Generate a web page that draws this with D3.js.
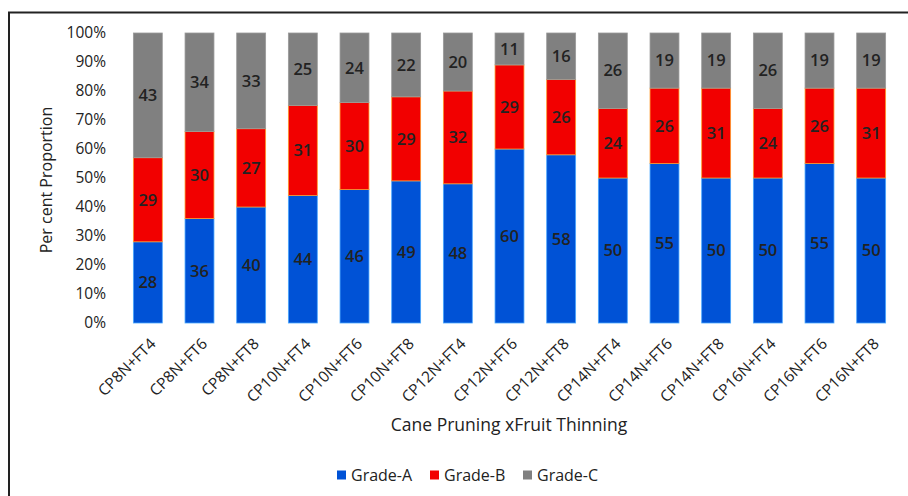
<!DOCTYPE html>
<html>
<head>
<meta charset="utf-8">
<script src="https://cdn.jsdelivr.net/npm/d3@7"></script>
<style>
  body { margin: 0; background: #fff; }
  svg text { font-family: 'Open Sans', sans-serif; fill: #222; }
</style>
</head>
<body>
<svg width="908" height="496"></svg>
<script>
const categories = ['CP8N+FT4', 'CP8N+FT6', 'CP8N+FT8', 'CP10N+FT4', 'CP10N+FT6', 'CP10N+FT8',
  'CP12N+FT4', 'CP12N+FT6', 'CP12N+FT8', 'CP14N+FT4', 'CP14N+FT6', 'CP14N+FT8',
  'CP16N+FT4', 'CP16N+FT6', 'CP16N+FT8']
const gradeA = [28, 36, 40, 44, 46, 49, 48, 60, 58, 50, 55, 50, 50, 55, 50]
const gradeB = [29, 30, 27, 31, 30, 29, 32, 29, 26, 24, 26, 31, 24, 26, 31]
const gradeC = [43, 34, 33, 25, 24, 22, 20, 11, 16, 26, 19, 19, 26, 19, 19]
const seriesNames = ['Grade-A', 'Grade-B', 'Grade-C']
const yTicks = [0, 10, 20, 30, 40, 50, 60, 70, 80, 90, 100]

const fills = ['#0052d6', '#f20000', '#808080']
const strokes = ['#4aa8ff', '#ff9a2a', '#9a9a9a']

const svg = d3.select('svg')

// outer frame
svg.append('path')
  .attr('d', 'M9,600 V12.5 H908')
  .attr('fill', 'none')
  .attr('stroke', '#222')
  .attr('stroke-width', 2)

const rows = categories.map((c, i) => ({ cat: c, 'Grade-A': gradeA[i], 'Grade-B': gradeB[i], 'Grade-C': gradeC[i] }))
const stacked = d3.stack().keys(seriesNames)(rows)

const x = d3.scaleBand()
  .domain(categories)
  .range([122, 897])
  .paddingInner(0.44)
  .paddingOuter(0.22)

const y = d3.scaleLinear()
  .domain([0, 100])
  .range([323, 33])

// y axis labels
const yAxis = svg.append('g')
  .attr('transform', 'translate(106,0)')
  .call(d3.axisLeft(y).tickValues(yTicks).tickFormat(d => d + '%').tickSize(0).tickPadding(0))
yAxis.select('.domain').remove()
yAxis.selectAll('text').attr('font-size', 15.5).style('font-family', "'Open Sans', sans-serif").attr('fill', '#222')

// bars
const groups = svg.append('g')
  .selectAll('g')
  .data(stacked)
  .enter()
  .append('g')

groups.selectAll('rect')
  .data((s, si) => s.map(d => ({ d, si })))
  .enter()
  .append('rect')
  .attr('x', o => x(o.d.data.cat))
  .attr('width', x.bandwidth())
  .attr('y', o => y(o.d[1]))
  .attr('height', o => y(o.d[0]) - y(o.d[1]))
  .attr('fill', o => fills[o.si])
  .attr('stroke', o => strokes[o.si])
  .attr('stroke-width', 0.8)

groups.selectAll('text')
  .data(s => s)
  .enter()
  .append('text')
  .attr('x', d => x(d.data.cat) + x.bandwidth() / 2)
  .attr('y', d => y((d[0] + d[1]) / 2))
  .attr('dy', '0.35em')
  .attr('text-anchor', 'middle')
  .attr('font-size', 16.5)
  .attr('font-weight', 600)
  .attr('fill', '#111')
  .text(d => d[1] - d[0])

// x axis labels, rotated
const xAxis = svg.append('g')
  .attr('transform', 'translate(0,335)')
  .call(d3.axisBottom(x).tickSize(0).tickPadding(0))
xAxis.select('.domain').remove()
xAxis.selectAll('text')
  .attr('font-size', 15.5)
  .style('font-family', "'Open Sans', sans-serif")
  .attr('fill', '#222')
  .attr('text-anchor', 'end')
  .attr('dy', '0.35em')
  .attr('transform', 'translate(5,6) rotate(-45)')

// axis titles
svg.append('text')
  .attr('transform', 'translate(52,180) rotate(-90)')
  .attr('text-anchor', 'middle')
  .attr('font-size', 16)
  .text('Per cent Proportion')

svg.append('text')
  .attr('x', 509)
  .attr('y', 431)
  .attr('text-anchor', 'middle')
  .attr('font-size', 17.5)
  .text('Cane Pruning xFruit Thinning')

// legend
const legendX = [337, 430, 523]
const legend = svg.append('g')
  .selectAll('g')
  .data(seriesNames)
  .enter()
  .append('g')
  .attr('transform', (d, i) => `translate(${legendX[i]},475)`)

legend.append('rect')
  .attr('x', 0)
  .attr('y', -4.5)
  .attr('width', 9)
  .attr('height', 9)
  .attr('fill', (d, i) => fills[i])

legend.append('text')
  .attr('x', 14)
  .attr('dy', '0.35em')
  .attr('font-size', 16)
  .text(d => d)
</script>
</body>
</html>
